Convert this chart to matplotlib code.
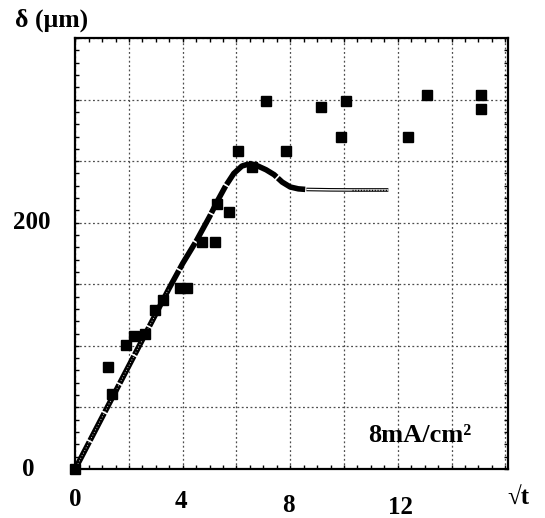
import matplotlib
matplotlib.use("Agg")
import matplotlib.pyplot as plt
import matplotlib.transforms as mtransforms
from matplotlib.ticker import MultipleLocator

plt.rcParams['font.family'] = ['Liberation Serif', 'DejaVu Serif']
plt.rcParams['font.weight'] = 'bold'

# measured points
sqrt_t = [0, 1.21, 1.38, 1.89, 2.19, 2.58, 2.97, 3.25, 3.9, 4.16, 4.7, 5.2,
          5.26, 5.73, 6.06, 6.56, 7.08, 7.83, 9.16, 10.07, 9.88, 12.37,
          13.08, 15.09, 15.09]
delta = [0, 83, 61, 101, 108, 110, 129, 137.5, 147, 147, 184, 184,
         215, 209, 258, 245.5, 299, 258, 294, 299, 270, 270,
         304, 304, 292]

# model curve
model_x = [0, 0.5, 1, 1.5, 2, 2.5, 3, 3.5, 4, 4.5, 5, 5.3, 5.6, 5.9, 6.2,
           6.5, 6.8, 7.1, 7.4, 7.7, 8.0, 8.3, 8.6]
model_y = [0, 21, 42, 63, 84, 105, 126, 147, 167, 185, 205, 218, 230, 240,
           246, 248, 246, 243, 239, 233, 229, 227.5, 227]
plateau_x = [8.6, 9.5, 10.3, 11.0, 11.65]
plateau_y = [227, 226.7, 226.6, 226.6, 226.6]

xtick_vals = [0, 4, 8, 12]
ytick_vals = [0, 200]

fig = plt.figure(figsize=(5.45, 5.18), dpi=100)
ax = fig.add_axes([75.2 / 545, 49 / 518, (508 - 75.2) / 545, (469 - 38) / 518])
ax.set_xlim(0, 16.1)
ax.set_ylim(0, 350)

ax.xaxis.set_major_locator(MultipleLocator(2))
ax.xaxis.set_minor_locator(MultipleLocator(0.5))
ax.yaxis.set_major_locator(MultipleLocator(50))
ax.yaxis.set_minor_locator(MultipleLocator(10))
ax.tick_params(which='both', direction='in', top=True, right=True,
               length=3, width=1, labelbottom=False, labelleft=False)
ax.grid(True, which='major', color='0.3', linewidth=0.9,
        linestyle=(0, (1.5, 2)))
for s in ax.spines.values():
    s.set_linewidth(1.6)

# curve
ax.plot(model_x, model_y, color='black', lw=4.0,
        linestyle=(0, (5.5, 0.3)), solid_capstyle='butt', zorder=3)
ax.plot(model_x[:8], model_y[:8], color='white', lw=0.6,
        linestyle=(0, (1, 2.5)), zorder=4)
ax.plot(plateau_x, plateau_y, color='black', lw=2.6, zorder=3,
        solid_capstyle='butt')
ax.plot(plateau_x, plateau_y, color='white', lw=1.0, zorder=4,
        solid_capstyle='butt')
ax.plot(plateau_x[2:], plateau_y[2:], color='black', lw=1.0, zorder=5,
        linestyle=(0, (0.8, 1.2)))

ax.plot(sqrt_t, delta, linestyle='none', marker='s', markersize=7.5,
        color='black', zorder=6, clip_on=False)

ax.text(10.9, 27, "8mA/cm²", fontsize=19, fontweight='bold',
        va='center', ha='left')

# tick labels
tx = mtransforms.blended_transform_factory(ax.transData, fig.transFigure)
xlab_pos = [(0, 500), (3.95, 502), (7.95, 505), (12.1, 508)]
for v, (xp, yp) in zip(xtick_vals, xlab_pos):
    ax.text(xp, 1 - yp / 518, str(v), transform=tx, fontsize=18,
            fontweight='bold', ha='center', va='center')

ty = mtransforms.blended_transform_factory(fig.transFigure, ax.transData)
ylab_pos = [28, 32]
for v, xp in zip(ytick_vals, ylab_pos):
    ax.text(xp / 545, v, str(v), transform=ty, fontsize=18,
            fontweight='bold', ha='center', va='center')

fig.text(15 / 545, 1 - 20 / 518, "δ (μm)", fontsize=18.5, fontweight='bold',
         ha='left', va='center')
fig.text(518 / 545, 1 - 497 / 518, "√t", fontsize=18, fontweight='bold',
         ha='center', va='center')

fig.savefig("out.png", dpi=100)
